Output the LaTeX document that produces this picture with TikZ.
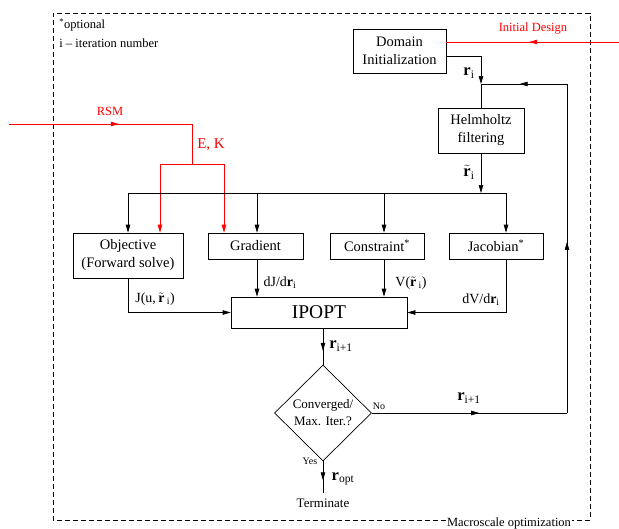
\documentclass[tikz,border=0pt]{standalone}
\usepackage{fontspec}
\setmainfont{Liberation Serif}
\usetikzlibrary{arrows.meta,shapes.geometric,decorations.markings}
\begin{document}
\begin{tikzpicture}[x=1pt,y=-1pt,line width=0.7pt,
  >={Triangle[length=8pt,width=4.5pt]},
  box/.style={draw,inner sep=1pt,align=center,font=\fontsize{14.5}{18}\selectfont},
  lbl/.style={font=\fontsize{14}{16}\selectfont,inner sep=1pt},
  rlbl/.style={font=\fontsize{16.5}{18}\selectfont,inner sep=1pt},
  small/.style={font=\fontsize{12.5}{15}\selectfont,inner sep=1pt},
  tiny/.style={font=\fontsize{10}{12}\selectfont,inner sep=1pt},
  midarr/.style={postaction={decorate},decoration={markings,mark=at position #1 with {\arrow{>}}}}]
\useasboundingbox (0,0) rectangle (619,528);
% frame
\node[small] (macro) at (509,523) {Macroscale optimization};
\draw[dash pattern=on 5pt off 3pt] (macro.west |- 0,520) -- (53,520) -- (53,13) -- (590,13) -- (590,520) -- (macro.east |- 0,520);
\node[small,anchor=west] (opt) at (58,25) {\textsuperscript{*}optional};
\node[small,anchor=west] (iter) at (58,43) {i -- iteration number};
% boxes
\node[box,minimum width=93pt,minimum height=44pt] (dom) at (399.5,51) {Domain\\Initialization};
\node[box,minimum width=86pt,minimum height=45pt] (helm) at (481,130.5) {Helmholtz\\filtering};
\node[box,minimum width=110pt,minimum height=45pt] (obj) at (128,255.5) {Objective\\(Forward solve)};
\node[box,minimum width=95pt,minimum height=26pt] (grad) at (255.5,246) {Gradient};
\node[box,minimum width=94pt,minimum height=26pt] (cons) at (377,246) {Constraint\textsuperscript{*}};
\node[box,minimum width=94pt,minimum height=26pt] (jac) at (496,246) {Jacobian\textsuperscript{*}};
\node[box,minimum width=176pt,minimum height=31pt,font=\fontsize{19.5}{22}\selectfont] (ipopt) at (319,312.5) {IPOPT};
\node[draw,diamond,minimum width=97pt,minimum height=96pt,inner sep=0pt,align=center,font=\fontsize{13}{17}\selectfont] (dia) at (323,413) {Converged/\\Max. Iter.?};
\node[small,font=\fontsize{13}{15}\selectfont] (term) at (323,503) {Terminate};
% coordinates
\coordinate (idin) at (619,42);
\coordinate (j1) at (481,84);
\coordinate (j2) at (481,193);
\coordinate (fb) at (567,84);
\coordinate (fbb) at (567,413);
\coordinate (bL) at (128,193);
\coordinate (bG) at (257,193);
\coordinate (bC) at (384,193);
\coordinate (bR) at (506,193);
\coordinate (rsmin) at (9,124);
\coordinate (rsmc) at (192,124);
\coordinate (ek) at (192,164);
\coordinate (ekL) at (160,164);
\coordinate (ekR) at (224,164);
\coordinate (tend) at (323,493);
% red inputs
\draw[red,midarr=0.52] (idin) -- (dom.east |- idin);
\node[red,font=\fontsize{12.5}{14}\selectfont] (idlbl) at (533,29) {Initial Design};
\draw[red,midarr=0.6] (rsmin) -- (rsmc);
\draw[red] (rsmc) -- (ek);
\draw[red] (ekL) -- (ekR);
\draw[red,->] (ekL) -- (obj.north -| ekL);
\draw[red,->] (ekR) -- (grad.north -| ekR);
\node[red,font=\fontsize{12.5}{14}\selectfont] (rsm) at (110,111) {RSM};
\node[red,font=\fontsize{15}{17}\selectfont] (eklbl) at (211,145) {E, K};
% main flow
\draw[->] (dom.east |- 0,56) -| (j1);
\node[rlbl] (ri) at (469,73) {\textbf{r}\textsubscript{i}};
\draw (j1) -- (helm.north);
\draw[->] (helm.south) -- (j2);
\node[rlbl] (rti) at (469,172) {$\tilde{\mathbf{r}}$\textsubscript{i}};
\draw (bL) -- (bR);
\draw[->] (bL) -- (obj.north);
\draw[->] (bG) -- (grad.north -| bG);
\draw[->] (bC) -- (cons.north -| bC);
\draw[->] (bR) -- (jac.north -| bR);
\draw[->] (obj.south) |- (ipopt.west);
\node[lbl] (jl) at (155,299) {J(u,\,$\tilde{\mathbf{r}}$\,\textsubscript{i})};
\draw[->] (grad.south -| bG) -- (ipopt.north -| bG);
\node[lbl] (djl) at (280,283) {dJ/d\textbf{r}\textsubscript{i}};
\draw[->] (cons.south -| bC) -- (ipopt.north -| bC);
\node[lbl] (vl) at (411,283) {V($\tilde{\mathbf{r}}$\,\textsubscript{i})};
\draw[->] (jac.south -| bR) |- (ipopt.east);
\node[lbl] (dvl) at (481,300) {dV/d\textbf{r}\textsubscript{i}};
\draw[midarr=0.62] (ipopt.south -| dia) -- (dia.north);
\node[rlbl] (ri1) at (341,346) {\textbf{r}\textsubscript{i+1}};
\draw[midarr=0.55] (dia.east) -- (fbb);
\draw[midarr=0.52] (fbb) -- (fb);
\draw[midarr=0.55] (fb) -- (j1);
\node[tiny] (no) at (379,406) {No};
\node[rlbl] (ri2) at (469,398) {\textbf{r}\textsubscript{i+1}};
\draw[midarr=0.6] (dia.south) -- (tend);
\node[tiny] (yes) at (310,461) {Yes};
\node[rlbl] (ropt) at (343,479) {\textbf{r}\textsubscript{opt}};
\end{tikzpicture}
\end{document}
